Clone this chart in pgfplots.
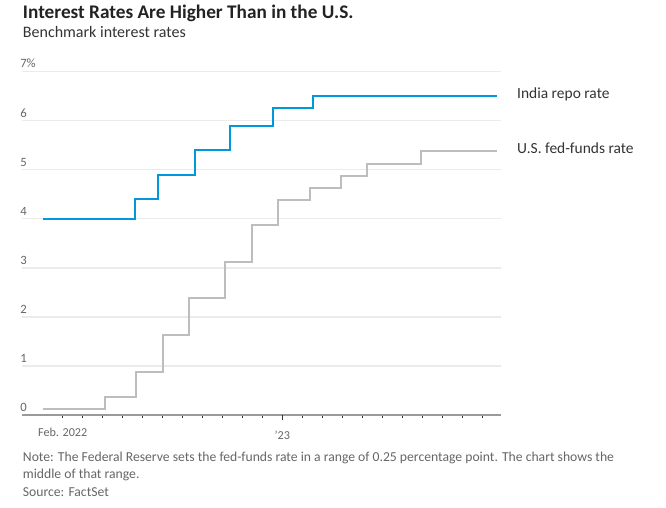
\documentclass[border=0pt]{standalone}
\usepackage{pgfplots}
\pgfplotsset{compat=1.18}
\usepackage{fontspec}
\setmainfont{Carlito}
\definecolor{wsjblue}{HTML}{0098DB}
\definecolor{fedgray}{HTML}{BDBDBD}
\definecolor{gridc}{HTML}{EBEBEB}
\definecolor{axisc}{HTML}{9A9A9A}
\definecolor{tickc}{HTML}{333333}
\definecolor{labc}{HTML}{666666}
\definecolor{titc}{HTML}{222222}
\definecolor{subc}{HTML}{333333}
\begin{document}
\begin{tikzpicture}
\useasboundingbox (0,0) rectangle (499.5pt,-380.25pt);
\begin{axis}[
  at={(16.5pt,-311.25pt)}, anchor=south west,
  scale only axis, width=359.25pt, height=257.6pt,
  xmin=-55.7, xmax=698.5, ymin=0, ymax=7,
  axis lines*=left,
  axis line style={-},
  x axis line style={axisc, line width=1.5pt},
  y axis line style={draw=none},
  clip=false,
  ytick={0,1,2,3,4,5,6,7},
  yticklabels={0,1,2,3,4,5,6,7\%},
  ytick style={draw=none},
  ymajorgrids,
  grid style={gridc, line width=1.1pt},
  yticklabel style={anchor=base west, inner sep=0pt, xshift=0.5pt, yshift=2.7pt, color=labc, font=\fontsize{9.5}{10}\selectfont},
  xtick={8.4,39.84,71.28,102.72,134.16,165.6,197.04,228.48,259.92,291.36,322.8,385.68,417.12,448.56,480.0,511.44,542.88,574.32,605.76,637.2,668.64},
  xticklabels={Feb. 2022,{},{},{},{},{},{},{},{},{},{},{},{},{},{},{},{},{},{},{},{}},
  tick align=outside,
  major tick length=2pt,
  xtick style={tickc, line width=0.8pt},
  extra x ticks={354.24},
  extra x tick labels={’23},
  extra x tick style={major tick length=4pt, xtick style={tickc, line width=0.8pt}},
  xticklabel style={anchor=base, inner sep=0pt, yshift=-14.25pt, color=labc, font=\fontsize{9.1}{10}\selectfont},
]
\addplot[const plot, fedgray, line width=1.5pt] coordinates {(-23,0.125) (75,0.375) (124,0.875) (166,1.625) (208,2.375) (264,3.125) (306,3.875) (348,4.375) (397,4.625) (446,4.875) (488,5.125) (572,5.375) (692,5.375)};
\addplot[const plot, wsjblue, line width=1.5pt] coordinates {(-23,4.0) (123,4.4) (158,4.9) (216,5.4) (272,5.9) (340,6.25) (403,6.5) (692,6.5)};
\node[anchor=base west, inner sep=0pt, xshift=15pt, yshift=-1.95pt, color=subc, font=\fontsize{11.6}{13}\selectfont] at (axis cs:692,6.5) {India repo rate};
\node[anchor=base west, inner sep=0pt, xshift=15pt, yshift=-1.95pt, color=subc, font=\fontsize{11.6}{13}\selectfont] at (axis cs:692,5.375) {U.S. fed-funds rate};
\end{axis}
\node[anchor=base west, inner sep=0pt, color=titc, font=\bfseries\fontsize{14.45}{16}\selectfont] at (17pt,-13.7pt) {Interest Rates Are Higher Than in the U.S.};
\node[anchor=base west, inner sep=0pt, color=subc, font=\fontsize{12}{13}\selectfont] at (17pt,-28pt) {Benchmark interest rates};
\node[anchor=base west, inner sep=0pt, color=labc, font=\fontsize{10.25}{11}\selectfont] at (17pt,-346.3pt) {Note: The Federal Reserve sets the fed-funds rate in a range of 0.25 percentage point. The chart shows the};
\node[anchor=base west, inner sep=0pt, color=labc, font=\fontsize{10.25}{11}\selectfont] at (17pt,-359.2pt) {middle of that range.};
\node[anchor=base west, inner sep=0pt, color=labc, font=\fontsize{10.25}{11}\selectfont] at (17pt,-372.5pt) {Source: FactSet};
\end{tikzpicture}
\end{document}
